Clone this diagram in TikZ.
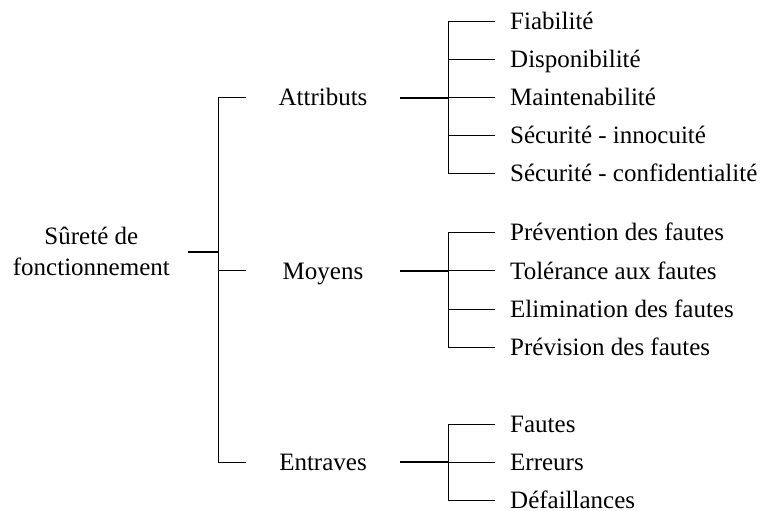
\documentclass[tikz,border=0pt]{standalone}
\usepackage{fontspec}
\setmainfont{Liberation Serif}
\begin{document}
\begin{tikzpicture}[x=1pt,y=-1pt,
  lbl/.style={font=\fontsize{25}{31}\selectfont, inner sep=0pt},
  leaf/.style={lbl, anchor=west, inner xsep=15pt, text height=16.5pt, text depth=0pt},
  mid/.style={lbl, minimum width=153pt, text height=16.5pt, text depth=0pt},
  link/.style={line width=1pt},
  stub/.style={line width=2pt}]
\useasboundingbox (0,0) rectangle (766,511);

% root
\node[lbl, align=center, anchor=east, inner xsep=18pt] (root) at (188,251.7) {Sûreté de\\fonctionnement};
\coordinate (h0) at (218,251.7);

% second level
\node[mid] (attr) at (323,97.5) {Attributs};
\node[mid] (moy) at (323,270.75) {Moyens};
\node[mid] (ent) at (323,462.3) {Entraves};

\coordinate (h1) at (448,97.5);
\coordinate (h2) at (448,270.75);
\coordinate (h3) at (448,462.3);

% leaves: attributes
\node[leaf] (a1) at (495,21.5) {Fiabilité};
\node[leaf] (a2) at (495,59.5) {Disponibilité};
\node[leaf] (a3) at (495,97.5) {Maintenabilité};
\node[leaf] (a4) at (495,135.5) {Sécurité - innocuité};
\node[leaf] (a5) at (495,173.5) {Sécurité - confidentialité};

% leaves: means
\node[leaf] (m1) at (495,232.5) {Prévention des fautes};
\node[leaf] (m2) at (495,270.75) {Tolérance aux fautes};
\node[leaf] (m3) at (495,309) {Elimination des fautes};
\node[leaf] (m4) at (495,347.25) {Prévision des fautes};

% leaves: threats
\node[leaf] (e1) at (495,424.3) {Fautes};
\node[leaf] (e2) at (495,462.3) {Erreurs};
\node[leaf] (e3) at (495,500.3) {Défaillances};

% connectors
\draw[stub] (root.east) -- (h0);
\foreach \n in {attr,moy,ent} \draw[link] (h0) |- (\n.west);

\draw[stub] (attr.east) -- (h1);
\foreach \n in {a1,a2,a3,a4,a5} \draw[link] (h1) |- (\n.west);

\draw[stub] (moy.east) -- (h2);
\foreach \n in {m1,m2,m3,m4} \draw[link] (h2) |- (\n.west);

\draw[stub] (ent.east) -- (h3);
\foreach \n in {e1,e2,e3} \draw[link] (h3) |- (\n.west);
\end{tikzpicture}
\end{document}
